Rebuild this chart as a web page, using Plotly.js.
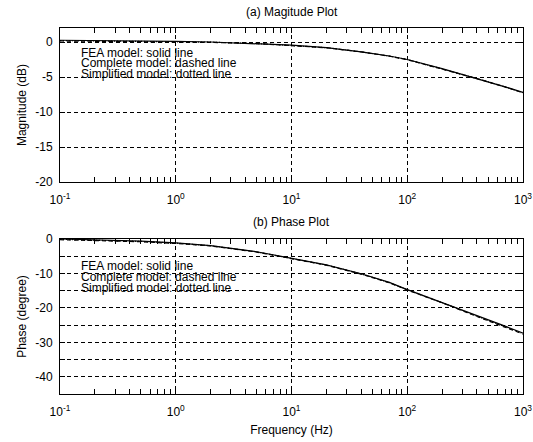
<!DOCTYPE html>
<html>
<head>
<meta charset="utf-8">
<script src="https://cdn.plot.ly/plotly-3.0.1.min.js"></script>
<style>html,body{margin:0;padding:0;background:#fff;}#chart{width:533px;height:442px;}</style>
</head>
<body>
<div id="chart"></div>
<script>
// Frequency (Hz)
var freq = [0.1, 0.2, 0.5, 1, 2, 5, 10, 20, 40, 70, 100, 200, 400, 700, 1000];
// Magnitude (dB)
var magFEA        = [0.25, 0.22, 0.15, 0.1, 0.0, -0.2, -0.45, -0.8, -1.4, -2.0, -2.5, -3.8, -5.2, -6.4, -7.2];
var magComplete   = [0.15, 0.12, 0.08, 0.05, -0.05, -0.22, -0.47, -0.82, -1.42, -2.02, -2.52, -3.82, -5.22, -6.42, -7.25];
var magSimplified = [0.2, 0.17, 0.12, 0.08, -0.02, -0.21, -0.46, -0.81, -1.41, -2.01, -2.51, -3.81, -5.21, -6.41, -7.22];
// Phase (degree)
var phFEA        = [0, -0.25, -0.6, -1.1, -1.9, -3.7, -5.5, -7.5, -10.1, -12.6, -14.7, -18.4, -22.3, -25.3, -27.3];
var phComplete   = [-0.2, -0.45, -0.8, -1.3, -2.0, -3.8, -5.6, -7.6, -10.2, -12.7, -14.8, -18.5, -22.5, -25.6, -27.6];
var phSimplified = [-0.1, -0.35, -0.7, -1.2, -1.95, -3.75, -5.55, -7.55, -10.15, -12.65, -14.75, -18.45, -22.4, -25.4, -27.45];

var xTickVals = [0.1, 1, 10, 100, 1000];
var xTickText = ['10<sup>-1</sup>', '10<sup>0</sup>', '10<sup>1</sup>', '10<sup>2</sup>', '10<sup>3</sup>'];
var magTickVals = [0, -5, -10, -15, -20];
var magTickText = ['0', '-5', '-10', '-15', '-20'];
var phTickVals = [0, -5, -10, -15, -20, -25, -30, -35, -40, -45];
var phTickText = ['0', '', '-10', '', '-20', '', '-30', '', '-40', ''];
var legendLines = ['FEA model: solid line', 'Complete model: dashed line', 'Simplified model: dotted line'];
var titles = ['(a) Magitude Plot', '(b) Phase Plot'];

var minorVals = [];
[0.1, 1, 10, 100].forEach(function(d){ for (var k = 2; k <= 9; k++) minorVals.push(d * k); });

var font = {family: 'Liberation Sans, Arial, sans-serif', size: 12, color: '#000'};

function line(x, y, xa, ya, dash) {
  return {x: x, y: y, xaxis: xa, yaxis: ya, type: 'scatter', mode: 'lines',
          line: {color: '#000', width: 1.2, dash: dash}, showlegend: false, hoverinfo: 'skip'};
}

var data = [
  line(freq, magFEA, 'x', 'y', 'solid'),
  line(freq, magComplete, 'x', 'y', '4px,3px'),
  line(freq, magSimplified, 'x', 'y', '1px,2px'),
  line(freq, phFEA, 'x2', 'y2', 'solid'),
  line(freq, phComplete, 'x2', 'y2', '4px,3px'),
  line(freq, phSimplified, 'x2', 'y2', '1px,2px')
];

function xaxis(anchor, showTitle) {
  var a = {
    type: 'log', range: [-1, 3], anchor: anchor,
    tickmode: 'array', tickvals: xTickVals, ticktext: xTickText,
    ticks: 'inside', ticklen: 5, tickwidth: 1, tickcolor: '#000', ticklabelstandoff: 7,
    showline: true, linecolor: '#000', linewidth: 1, mirror: 'allticks',
    showgrid: true, gridcolor: '#000', gridwidth: 1, griddash: '4px,3px',
    zeroline: false, tickfont: font,
    minor: {tickmode: 'array', tickvals: minorVals, ticks: 'inside', ticklen: 5, tickcolor: '#000', tickwidth: 1, showgrid: false}
  };
  if (showTitle) a.title = {text: 'Frequency (Hz)', font: font, standoff: 7};
  return a;
}
function yaxis(anchor, dom, range, tv, tt, title) {
  return {
    domain: dom, range: range, anchor: anchor,
    tickmode: 'array', tickvals: tv, ticktext: tt,
    ticks: 'inside', ticklen: 5, tickwidth: 1, tickcolor: '#000', ticklabelstandoff: 4,
    showline: true, linecolor: '#000', linewidth: 1, mirror: 'allticks',
    showgrid: true, gridcolor: '#000', gridwidth: 1, griddash: '4px,3px',
    zeroline: false, tickfont: font,
    title: {text: title, font: font, standoff: 6}
  };
}

var annotations = [];
var yMagText = [-1.5, -3.0, -4.5];
var yPhText = [-7.8, -11.0, -14.2];
for (var i = 0; i < 3; i++) {
  annotations.push({text: legendLines[i], xref: 'x domain', yref: 'y', x: 0.041, y: yMagText[i],
    xanchor: 'left', yanchor: 'middle', showarrow: false, font: font});
  annotations.push({text: legendLines[i], xref: 'x2 domain', yref: 'y2', x: 0.041, y: yPhText[i],
    xanchor: 'left', yanchor: 'middle', showarrow: false, font: font});
}
annotations.push({text: titles[0], xref: 'x domain', yref: 'paper', x: 0.5, y: 1, yshift: 16,
  xanchor: 'center', yanchor: 'middle', showarrow: false, font: font});
annotations.push({text: titles[1], xref: 'x2 domain', yref: 'y2 domain', x: 0.5, y: 1, yshift: 17,
  xanchor: 'center', yanchor: 'middle', showarrow: false, font: font});

var layout = {
  width: 533, height: 442,
  margin: {l: 60, r: 10, t: 28, b: 48},
  paper_bgcolor: '#fff', plot_bgcolor: '#fff',
  font: font,
  xaxis: xaxis('y', false),
  yaxis: yaxis('x', [0.579, 1], [-20, 2], magTickVals, magTickText, 'Magnitude (dB)'),
  xaxis2: xaxis('y2', true),
  yaxis2: yaxis('x2', [0, 0.4235], [-45, 0], phTickVals, phTickText, 'Phase (degree)'),
  annotations: annotations,
  showlegend: false
};

Plotly.newPlot('chart', data, layout, {staticPlot: true, displayModeBar: false});
</script>
</body>
</html>
